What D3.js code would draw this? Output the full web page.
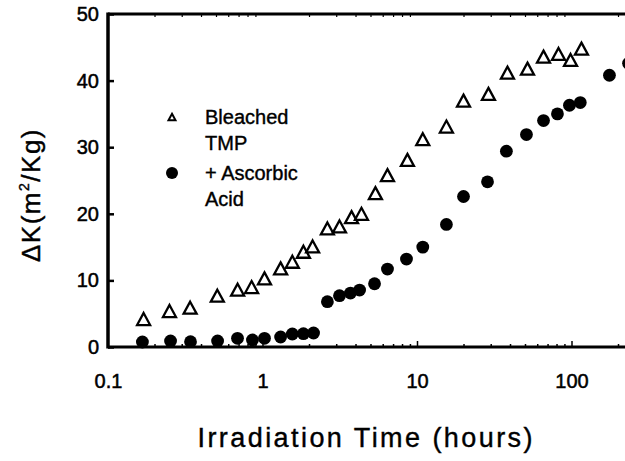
<!DOCTYPE html>
<html><head><meta charset="utf-8">
<script src="https://cdn.jsdelivr.net/npm/d3@7"></script>
<style>
body{margin:0;background:#fff}
svg{display:block}
text{font-family:"Liberation Sans",Arial,Helvetica,sans-serif;fill:#000}
</style>
</head><body>
<svg id="c" width="625" height="461"></svg>
<script>
// ---- data ----
const tmpTime = [0.17,0.25,0.34,0.51,0.69,0.85,1.03,1.31,1.56,1.84,2.11,2.63,3.15,3.77,4.37,5.38,6.44,8.67,10.9,15.5,20.0,29.0,38.5,51.9,65.9,82.4,98.6,116];
const tmpDK   = [4.2,5.4,5.9,7.7,8.6,9.0,10.3,11.8,12.8,14.3,15.1,17.8,18.1,19.5,20.0,23.1,25.8,28.1,31.2,33.1,37.0,38.0,41.2,41.8,43.6,44.0,43.1,44.8];
const ascTime = [0.167,0.254,0.342,0.512,0.689,0.861,1.03,1.31,1.56,1.84,2.14,2.63,3.15,3.71,4.25,5.31,6.44,8.55,10.9,15.5,20.0,28.6,37.9,51.1,65.9,81.1,97.0,114,176,234];
const ascDK   = [0.75,0.9,0.8,0.9,1.3,1.05,1.3,1.5,1.95,2.0,2.1,6.8,7.7,8.1,8.55,9.5,11.7,13.2,15.0,18.4,22.6,24.8,29.4,31.9,34.0,35.0,36.3,36.7,40.8,42.6];
const xTickValues = [0.1,1,10,100];
const xTickLabels = ["0.1","1","10","100"];
const yTickValues = [0,10,20,30,40,50];
const legendLabels = [["Bleached","TMP"],["+ Ascorbic","Acid"]];
const xTitle = "Irradiation Time (hours)";

const svg = d3.select("#c");
const x = d3.scaleLog().domain([0.1,1000]).range([108, 108+4*154.5]);
const y = d3.scaleLinear().domain([0,50]).range([347,14]);

// minor log ticks
const minor = [];
for (let e=-1; e<3; e++) for (let m=2; m<=9; m++) minor.push(m*Math.pow(10,e));

// bottom axis ticks (inward)
const gb = svg.append("g").attr("transform",`translate(0,${y(0)})`);
gb.call(d3.axisBottom(x).tickValues(minor).tickSize(-3).tickFormat(""));
gb.append("g").call(d3.axisBottom(x).tickValues([1,10,100]).tickSize(-6).tickFormat(""));
gb.selectAll(".domain").remove();
gb.selectAll("line").attr("stroke","#000").attr("stroke-width",1.5);
const gl = svg.append("g").attr("transform",`translate(0,${y(0)})`);
gl.call(d3.axisBottom(x).tickValues(xTickValues).tickSize(0).tickPadding(27)
   .tickFormat((d,i)=>xTickLabels[i]));
gl.selectAll(".domain").remove();
gl.selectAll("text").attr("font-size",20).attr("font-family",null).attr("stroke","#000").attr("stroke-width",0.5);

// top axis ticks (inward)
const gt = svg.append("g").attr("transform",`translate(0,${y(50)})`);
gt.call(d3.axisTop(x).tickValues(minor).tickSize(-3).tickFormat(""));
gt.selectAll(".domain").remove();
gt.selectAll("line").attr("stroke","#000").attr("stroke-width",1.2);

// left axis
const gy = svg.append("g").attr("transform",`translate(${x(0.1)},0)`);
gy.call(d3.axisLeft(y).tickValues(yTickValues).tickSize(-6).tickPadding(9));
gy.selectAll(".domain").remove();
gy.selectAll("line").attr("stroke","#000").attr("stroke-width",2.5);
gy.selectAll("text").attr("font-size",20).attr("font-family",null).attr("stroke","#000").attr("stroke-width",0.5);

// frame lines
svg.append("line").attr("x1",x(0.1)).attr("x2",x(1000)).attr("y1",y(0)).attr("y2",y(0)).attr("stroke","#000").attr("stroke-width",3);
svg.append("line").attr("x1",x(0.1)).attr("x2",x(1000)).attr("y1",y(50)).attr("y2",y(50)).attr("stroke","#000").attr("stroke-width",3);
svg.append("line").attr("x1",x(0.1)).attr("x2",x(0.1)).attr("y1",y(50)-1.5).attr("y2",y(0)+1.5).attr("stroke","#000").attr("stroke-width",3.5);

// triangle path helper
function tri(w,h){return `M0,${-h/2}L${w/2},${h/2}L${-w/2},${h/2}Z`;}

// data: circles
svg.append("g").selectAll("circle").data(ascTime).join("circle")
  .attr("cx",(d)=>x(d)).attr("cy",(d,i)=>y(ascDK[i])).attr("r",6.4).attr("fill","#000");
// data: triangles
svg.append("g").selectAll("path").data(tmpTime).join("path")
  .attr("d",tri(13,12))
  .attr("transform",(d,i)=>`translate(${x(d)},${y(tmpDK[i])})`)
  .attr("fill","#fff").attr("stroke","#000").attr("stroke-width",2.3).attr("stroke-linejoin","miter");

// legend
svg.append("path").attr("d",tri(7,6.5)).attr("transform","translate(172,117)")
  .attr("fill","#fff").attr("stroke","#000").attr("stroke-width",2);
svg.append("circle").attr("cx",172).attr("cy",173).attr("r",6).attr("fill","#000");
const lg = svg.append("g").attr("font-size",20).attr("stroke","#000").attr("stroke-width",0.4);
[[117,143],[173,199]].forEach((ys,k)=>{
  ys.forEach((yy,j)=>{
    lg.append("text").attr("x",205).attr("y",yy).attr("dy","0.35em").text(legendLabels[k][j]);
  });
});

// axis titles
svg.append("text").attr("x",365).attr("y",447).attr("text-anchor","middle")
  .attr("font-size",27).attr("textLength",335).attr("lengthAdjust","spacing")
  .attr("stroke","#000").attr("stroke-width",0.4).text(xTitle);

const yt = svg.append("text").attr("transform","translate(40,195) rotate(-90)")
  .attr("text-anchor","middle").attr("font-size",26).attr("letter-spacing",1.5)
  .attr("stroke","#000").attr("stroke-width",0.4);
yt.append("tspan").text("ΔK(m");
yt.append("tspan").attr("font-size",14).attr("dy",-11).text("2");
yt.append("tspan").attr("dy",11).text("/Kg)");
</script>
</body></html>
